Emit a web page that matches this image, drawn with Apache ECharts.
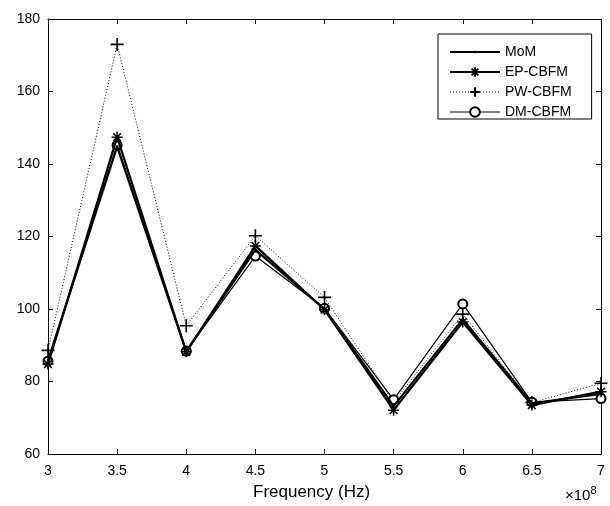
<!DOCTYPE html>
<html>
<head>
<meta charset="utf-8">
<script src="https://cdn.jsdelivr.net/npm/echarts@6/dist/echarts.min.js"></script>
<style>html,body{margin:0;padding:0;background:#fff}#c{width:610px;height:506px}</style>
</head>
<body>
<div id="c"></div>
<script>
const freqs = [3, 3.5, 4, 4.5, 5, 5.5, 6, 6.5, 7];
const mom  = [85.8, 144.8, 88.3, 116.3, 100.0, 73.2, 97.2, 74.0, 76.6];
const ep   = [84.8, 147.4, 88.2, 117.4, 99.8, 72.1, 96.4, 73.5, 77.2];
const pw   = [88.6, 173.0, 95.4, 120.2, 103.2, 74.3, 98.6, 74.2, 79.5];
const dm   = [85.6, 145.2, 88.4, 114.6, 100.2, 75.0, 101.4, 74.3, 75.3];
const xTicks = ['3', '3.5', '4', '4.5', '5', '5.5', '6', '6.5', '7'];
const seriesNames = ['MoM', 'EP-CBFM', 'PW-CBFM', 'DM-CBFM'];

const pair = arr => freqs.map((f, i) => [f, arr[i]]);
const FONT = 'Liberation Sans, Arial, sans-serif';
const dot = 'path://M0,0M10,10M3.8,3.8L6.2,3.8L6.2,6.2L3.8,6.2Z';
const asterisk = 'path://M5,0L5,10M0,5L10,5M1.5,1.5L8.5,8.5M1.5,8.5L8.5,1.5';
const plus = 'path://M5,0L5,10M0,5L10,5';

const chart = echarts.init(document.getElementById('c'), null, {renderer: 'canvas'});
chart.setOption({
  animation: false,
  backgroundColor: '#fff',
  grid: {left: 48, right: 9, top: 19, bottom: 52, show: false},
  legend: {
    orient: 'vertical',
    left: 438, top: 34,
    padding: [11, 20, 0, 11],
    itemWidth: 50, itemHeight: 12, itemGap: 6,
    borderColor: '#000', borderWidth: 1, backgroundColor: '#fff',
    textStyle: {fontFamily: FONT, fontSize: 14, color: '#000'},
    data: [
      {name: seriesNames[0], lineStyle: {width: 2}},
      {name: seriesNames[1], lineStyle: {width: 2}},
      {name: seriesNames[2], lineStyle: {width: 1}},
      {name: seriesNames[3], lineStyle: {width: 1}}
    ]
  },
  xAxis: [{
    type: 'value', min: 3, max: 7, interval: 0.5,
    axisLine: {show: true, onZero: false, lineStyle: {color: '#000', width: 1}},
    axisTick: {show: true, inside: true, length: 5, lineStyle: {color: '#000'}},
    axisLabel: {margin: 10, fontFamily: FONT, fontSize: 14, color: '#000',
      formatter: (v) => { const i = freqs.indexOf(v); return i >= 0 ? xTicks[i] : ''; }},
    splitLine: {show: false}
  }, {
    type: 'value', min: 3, max: 7, interval: 0.5, position: 'top',
    axisLine: {show: true, onZero: false, lineStyle: {color: '#000', width: 1}},
    axisTick: {show: true, inside: true, length: 5, lineStyle: {color: '#000'}},
    axisLabel: {show: false}, splitLine: {show: false}
  }],
  yAxis: [{
    type: 'value', min: 60, max: 180, interval: 20,
    axisLine: {show: true, onZero: false, lineStyle: {color: '#000', width: 1}},
    axisTick: {show: true, inside: true, length: 5, lineStyle: {color: '#000'}},
    axisLabel: {margin: 8, fontFamily: FONT, fontSize: 14, color: '#000'},
    splitLine: {show: false}
  }, {
    type: 'value', min: 60, max: 180, interval: 20, position: 'right',
    axisLine: {show: true, onZero: false, lineStyle: {color: '#000', width: 1}},
    axisTick: {show: true, inside: true, length: 5, lineStyle: {color: '#000'}},
    axisLabel: {show: false}, splitLine: {show: false}
  }],
  series: [
    {name: 'MoM', type: 'line', data: pair(mom), symbol: dot, symbolSize: 10,
      lineStyle: {color: '#000', width: 2.2}, itemStyle: {color: '#000'}, z: 4},
    {name: 'EP-CBFM', type: 'line', data: pair(ep), symbol: asterisk, symbolSize: 11,
      lineStyle: {color: '#000', width: 2.2},
      itemStyle: {color: '#000', borderColor: '#000', borderWidth: 1.5}, z: 3},
    {name: 'PW-CBFM', type: 'line', data: pair(pw), symbol: plus, symbolSize: 13,
      lineStyle: {color: '#000', width: 1, type: [1, 2]},
      itemStyle: {color: '#000', borderColor: '#000', borderWidth: 1.6}, z: 2},
    {name: 'DM-CBFM', type: 'line', data: pair(dm), symbol: 'emptyCircle', symbolSize: 9,
      lineStyle: {color: '#000', width: 1.2},
      itemStyle: {color: '#000', borderColor: '#000', borderWidth: 1.2}, z: 2}
  ],
  graphic: [
    {type: 'text', left: 253, top: 484,
      style: {text: 'Frequency (Hz)', fontFamily: FONT, fontSize: 17, fill: '#000'}},
    {type: 'text', left: 565, top: 485,
      style: {text: '×10{s|8}', fontFamily: FONT, fontSize: 15, fill: '#000',
        rich: {s: {fontFamily: FONT, fontSize: 11, verticalAlign: 'top', padding: [0, 0, 10, 0]}}}}
  ]
});
</script>
</body>
</html>
